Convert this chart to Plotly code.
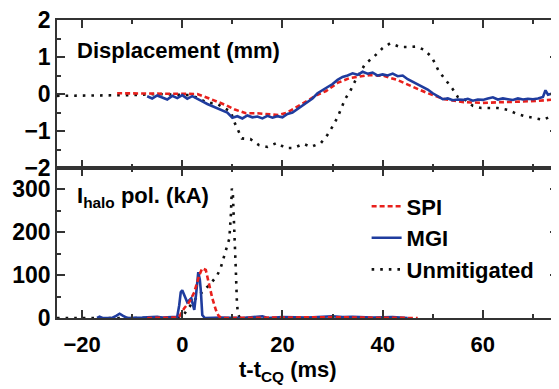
import plotly.graph_objects as go

# ---------------- data ----------------
# Top panel: displacement (mm)
unmit_disp_t = [-25, -20, -15, -10, -5, 0, 1.4, 3, 5, 6.7, 8.5, 9.7, 10.3, 11.1, 11.9, 13.6, 15.3, 17,
                18.9, 20.6, 22.2, 24.2, 25.7, 27.7, 29, 30, 31, 32.5, 33.6, 34.5, 36.5, 38.2, 40, 41.5,
                43.5, 45, 46.6, 48.2, 49.8, 51.2, 52.6, 54, 55, 56.5, 58, 59.7, 61.3, 63, 65, 66.5,
                68.4, 70, 72, 74.5]
unmit_disp_v = [-0.05, -0.05, -0.05, -0.03, 0.0, -0.02, -0.03, -0.1, -0.24, -0.25, -0.38, -0.48, -0.73,
                -0.97, -1.2, -1.22, -1.38, -1.43, -1.32, -1.46, -1.46, -1.35, -1.43, -1.32, -1.1, -0.88,
                -0.63, -0.14, 0.1, 0.35, 0.81, 1.0, 1.24, 1.37, 1.27, 1.27, 1.28, 1.2, 1.0, 0.62, 0.38,
                0.13, -0.08, -0.16, -0.32, -0.38, -0.38, -0.38, -0.43, -0.52, -0.6, -0.64, -0.7, -0.55]

spi_disp_t = [-13, -8, -4, 0, 3, 5, 7, 8.7, 10.5, 12.7, 15, 17.5, 19.2, 21, 22.5, 24, 25.7, 27, 28.7, 31,
              33.4, 35.5, 37.3, 40.2, 42.9, 45.6, 48.8, 52.4, 56.2, 60, 65.3, 70.5, 75]
spi_disp_v = [0.02, 0.02, 0.01, 0.02, 0.0, -0.1, -0.2, -0.3, -0.42, -0.52, -0.52, -0.55, -0.57, -0.5,
              -0.38, -0.25, -0.11, -0.02, 0.08, 0.3, 0.43, 0.48, 0.51, 0.49, 0.38, 0.22, 0.03, -0.14,
              -0.22, -0.24, -0.22, -0.19, -0.14]

mgi_disp_t = [-7, -6, -5, -4, -3, -2, -1, 0, 1, 2, 3, 4, 5, 6, 7, 8, 9, 10, 11, 12, 13, 14, 15, 16, 17,
              18, 19, 20, 21, 22, 23, 24, 25, 26, 27, 28, 29, 30, 31, 32, 33, 34, 35, 36, 37, 38, 39,
              40, 41, 42, 43, 44, 45, 46, 47, 48, 49, 50, 51, 52, 53, 54, 55, 56, 57, 58, 59, 60, 61,
              62, 63, 64, 65, 66, 67, 68, 69, 70, 71, 72, 72.5, 73, 74, 75]
mgi_disp_v = [-0.06, -0.12, -0.04, -0.1, -0.15, -0.05, -0.11, -0.03, -0.13, -0.06, -0.12, -0.2, -0.27,
              -0.33, -0.38, -0.45, -0.5, -0.64, -0.6, -0.66, -0.58, -0.63, -0.61, -0.66, -0.59, -0.64,
              -0.6, -0.63, -0.54, -0.5, -0.4, -0.32, -0.2, -0.12, 0.02, 0.1, 0.18, 0.27, 0.38, 0.46,
              0.5, 0.56, 0.52, 0.6, 0.55, 0.58, 0.5, 0.53, 0.5, 0.55, 0.48, 0.5, 0.4, 0.33, 0.27, 0.19,
              0.12, 0.02, -0.05, -0.14, -0.12, -0.17, -0.15, -0.16, -0.13, -0.18, -0.15, -0.16, -0.12,
              -0.09, -0.15, -0.12, -0.14, -0.16, -0.12, -0.15, -0.13, -0.14, -0.12, -0.08, 0.1, -0.02,
              0.02, 0.05]

# Bottom panel: poloidal halo current (kA)
unmit_halo_t = [-25, -20, -15, -10, -5, -1, 0, 1, 2, 3, 4.4, 6, 7, 7.7, 8.3, 9, 9.4, 9.7, 9.9, 10.1,
                10.3, 10.5, 10.7, 10.9, 11.1, 11.5, 15]
unmit_halo_v = [0, 0, 0, 0, 0, 0, 3, 20, 35, 50, 65, 85, 100, 118, 140, 165, 185, 240, 302, 290, 240,
                170, 110, 40, 10, 0, 0]

spi_halo_t = [-7, -4, -1, -0.6, 0, 0.4, 1.4, 2.4, 3.4, 4.0, 4.7, 5.3, 6.0, 6.7, 7.3, 8, 15, 20, 25, 30,
              35, 40, 47]
spi_halo_v = [0, 1, 1, 3, 15, 23, 37, 60, 100, 116, 112, 81, 46, 19, 4, 0, 1, 1, 2, 2, 1, 1, 0]

mgi_halo_t = [-17, -16.5, -16, -14, -13.2, -12.5, -11.8, -11, -8, -5, -4, -2, -1, -0.6, -0.3, 0, 0.5,
              1, 1.8, 2.4, 2.8, 3.2, 3.5, 3.7, 4, 4.5, 8, 12, 16, 17, 20, 25, 30, 32, 34, 38, 42, 45]
mgi_halo_v = [0, 3, 0, 0, 5, 10, 5, 0, 1, 3, 1, 2, 3, 30, 60, 65, 50, 37, 46, 19, 60, 107, 90, 65, 7,
              0, 1, 0, 4, 0, 2, 1, 4, 2, 3, 1, 2, 0]

x_ticks = [-20, 0, 20, 40, 60]
disp_ticks = [-2, -1, 0, 1, 2]
halo_ticks = [0, 100, 200, 300]

# ---------------- styling ----------------
RED = "#e8201c"
BLUE = "#1f3c9e"
BLACK = "#111111"
FONT = "Liberation Sans"
xtickfont = dict(family=FONT, size=22, color="black", weight="bold")
ytickfont = dict(family=FONT, size=23, color="black", weight="bold")

fig = go.Figure()

# top panel traces (x2 / y)
fig.add_trace(go.Scatter(x=unmit_disp_t, y=unmit_disp_v, xaxis="x2", yaxis="y", mode="lines",
                         line=dict(color=BLACK, width=2.6, dash="2.6px,6px"), showlegend=False))
fig.add_trace(go.Scatter(x=spi_disp_t, y=spi_disp_v, xaxis="x2", yaxis="y", mode="lines",
                         line=dict(color=RED, width=2.6, dash="5px,3px"), showlegend=False))
fig.add_trace(go.Scatter(x=mgi_disp_t, y=mgi_disp_v, xaxis="x2", yaxis="y", mode="lines",
                         line=dict(color=BLUE, width=2.6), showlegend=False))

# bottom panel traces (x / y2)
fig.add_trace(go.Scatter(x=unmit_halo_t, y=unmit_halo_v, xaxis="x", yaxis="y2", mode="lines",
                         line=dict(color=BLACK, width=2.6, dash="2.6px,6px"), showlegend=False))
fig.add_trace(go.Scatter(x=mgi_halo_t, y=mgi_halo_v, xaxis="x", yaxis="y2", mode="lines",
                         line=dict(color=BLUE, width=2.6), showlegend=False))
fig.add_trace(go.Scatter(x=spi_halo_t, y=spi_halo_v, xaxis="x", yaxis="y2", mode="lines",
                         line=dict(color=RED, width=2.6, dash="5px,3px"), showlegend=False))

# legend entries (order: SPI, MGI, Unmitigated)
fig.add_trace(go.Scatter(x=[None], y=[None], xaxis="x", yaxis="y2", mode="lines", name="SPI",
                         line=dict(color=RED, width=2.6, dash="5px,3px")))
fig.add_trace(go.Scatter(x=[None], y=[None], xaxis="x", yaxis="y2", mode="lines", name="MGI",
                         line=dict(color=BLUE, width=2.6)))
fig.add_trace(go.Scatter(x=[None], y=[None], xaxis="x", yaxis="y2", mode="lines", name="Unmitigated",
                         line=dict(color=BLACK, width=2.6, dash="2.6px,6px")))

split = 150 / 298
axis_common = dict(showline=True, linecolor="#333333", linewidth=1.5, mirror="ticks",
                   ticks="inside", tickcolor="#333333", tickwidth=1.5, showgrid=False,
                   zeroline=False, automargin=False, ticklabeloverflow="allow")

# the page body has an 8px margin, so the figure is 8px smaller each way
fig.update_layout(
    width=551, height=381,
    margin=dict(l=49, r=1, t=12, b=71),
    paper_bgcolor="white", plot_bgcolor="white",
    xaxis=dict(range=[-25, 75], tickvals=x_ticks, ticklen=8, anchor="y2", tickfont=xtickfont,
               minor=dict(dtick=10, tick0=0, ticklen=4, ticks="inside", tickcolor="#333333"),
               ticklabelstandoff=6, **axis_common),
    xaxis2=dict(range=[-25, 75], tickvals=x_ticks, ticklen=8, anchor="y", matches="x",
                showticklabels=False,
                minor=dict(dtick=10, tick0=0, ticklen=4, ticks="inside", tickcolor="#333333"),
                **axis_common),
    yaxis=dict(domain=[split, 1], range=[-2, 2], tickvals=disp_ticks, ticklen=8, anchor="x2",
               tickfont=ytickfont,
               minor=dict(dtick=0.5, tick0=0, ticklen=4, ticks="inside", tickcolor="#333333"),
               **axis_common),
    yaxis2=dict(domain=[0, split], range=[0, 350], tickvals=halo_ticks, ticklen=8, anchor="x",
                tickfont=ytickfont,
                minor=dict(dtick=50, tick0=0, ticklen=4, ticks="inside", tickcolor="#333333"),
                **axis_common),
    legend=dict(x=0.618, y=0.445, xanchor="left", yanchor="top",
                font=dict(family=FONT, size=22, color="black", weight="bold"),
                bgcolor="rgba(0,0,0,0)", tracegroupgap=0),
    annotations=[
        dict(text="Displacement (mm)", xref="paper", yref="paper", x=0.036, y=0.899,
             xanchor="left", yanchor="middle", showarrow=False,
             font=dict(family=FONT, size=22, color="black", weight="bold")),
        dict(text="I<sub>halo</sub> pol. (kA)", xref="paper", yref="paper", x=0.036, y=0.46,
             xanchor="left", yanchor="top", showarrow=False,
             font=dict(family=FONT, size=22, color="black", weight="bold")),
        dict(text="t-t<sub>CQ</sub> (ms)", xref="paper", yref="paper", x=0.461, y=-0.125,
             xanchor="center", yanchor="top", showarrow=False,
             font=dict(family=FONT, size=22, color="black", weight="bold")),
    ],
)

fig.write_html("out.html")
